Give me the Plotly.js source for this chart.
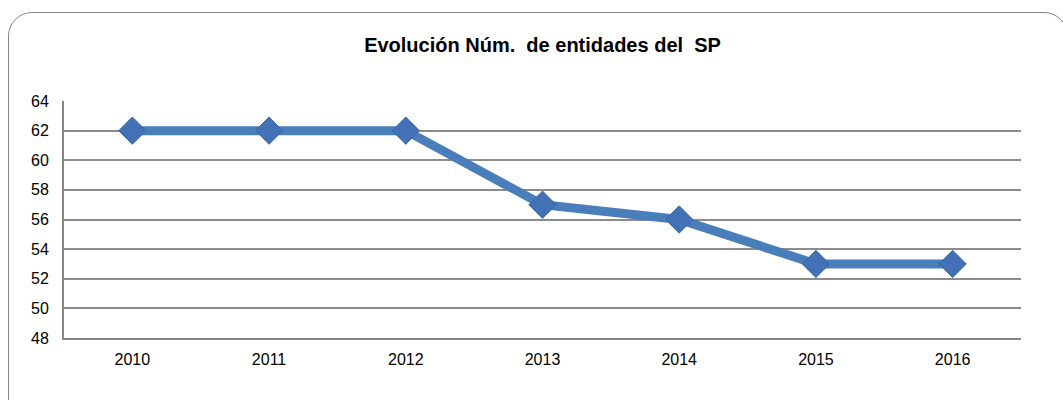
<!DOCTYPE html>
<html>
<head>
<meta charset="utf-8">
<script src="https://cdn.plot.ly/plotly-3.0.1.min.js"></script>
<style>
html,body{margin:0;padding:0;background:#fff;}
#wrap{position:relative;width:1063px;height:400px;overflow:hidden;}
#frame{position:absolute;left:8px;top:12px;width:1060px;height:410px;border:1.5px solid #868686;border-radius:24px;box-sizing:border-box;}
#chart{position:absolute;left:0;top:0;width:1063px;height:400px;}
</style>
</head>
<body>
<div id="wrap">
<div id="frame"></div>
<div id="chart"></div>
</div>
<script>
const years = ['2010','2011','2012','2013','2014','2015','2016'];
const entidades = [62, 62, 62, 57, 56, 53, 53];
const yTicks = [48, 50, 52, 54, 56, 58, 60, 62, 64];
const titleText = '<b>Evolución Núm.&nbsp; de entidades del&nbsp; SP</b>';

const trace = {
  x: years,
  y: entidades,
  type: 'scatter',
  mode: 'lines+markers',
  line: {color: '#4a7ebb', width: 9},
  marker: {symbol: 'diamond', size: 21, color: '#4272b5', line: {color: '#3a68a8', width: 1}},
  hoverinfo: 'x+y'
};

const font = 'Liberation Sans, Arial, sans-serif';
const layout = {
  width: 1063, height: 400,
  paper_bgcolor: 'rgba(0,0,0,0)',
  plot_bgcolor: 'rgba(0,0,0,0)',
  margin: {l: 64, r: 42, t: 101, b: 62},
  showlegend: false,
  title: {text: titleText, x: 0.5, xref: 'paper', y: 0.887, yref: 'container', yanchor: 'middle',
          font: {family: font, size: 20, color: '#000'}},
  xaxis: {
    type: 'category', range: [-0.5, 6.5], showgrid: false, zeroline: false,
    showline: true, linecolor: '#868686', linewidth: 2, ticks: '', ticklabelstandoff: 6,
    tickfont: {family: font, size: 16, color: '#000'}
  },
  yaxis: {
    range: [48, 64], tickvals: yTicks, ticktext: yTicks.map(String),
    showgrid: true, gridcolor: '#8c8c8c', gridwidth: 1.5, zeroline: false,
    showline: true, linecolor: '#868686', linewidth: 2, ticks: '', ticklabelstandoff: 10,
    tickfont: {family: font, size: 16, color: '#000'}
  }
};

Plotly.newPlot('chart', [trace], layout, {displayModeBar: false});
</script>
</body>
</html>
